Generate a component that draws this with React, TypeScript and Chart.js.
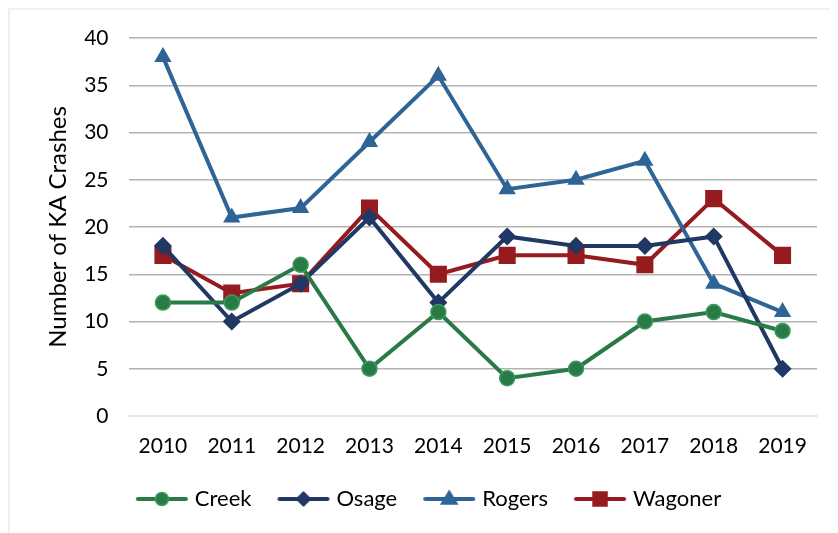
import React, { useEffect, useRef } from "react";
import { Chart, registerables } from "chart.js";

Chart.register(...registerables);

const years = ["2010", "2011", "2012", "2013", "2014", "2015", "2016", "2017", "2018", "2019"];
const creek = [12, 12, 16, 5, 11, 4, 5, 10, 11, 9];
const osage = [18, 10, 14, 21, 12, 19, 18, 18, 19, 5];
const rogers = [38, 21, 22, 29, 36, 24, 25, 27, 14, 11];
const wagoner = [17, 13, 14, 22, 15, 17, 17, 16, 23, 17];
const yTicks = [0, 5, 10, 15, 20, 25, 30, 35, 40];

const FONT = "Lato, 'Open Sans', sans-serif";

type SeriesStyle = {
  label: string;
  data: number[];
  color: string;
  border: string;
  pointStyle: string;
  radius: number;
};

const series: SeriesStyle[] = [
  { label: "Creek", data: creek, color: "#2a7a48", border: "#3a9c5c", pointStyle: "circle", radius: 7.5 },
  { label: "Osage", data: osage, color: "#1f3864", border: "#1f3864", pointStyle: "rectRot", radius: 8 },
  { label: "Rogers", data: rogers, color: "#2f6496", border: "#2f6496", pointStyle: "triangle", radius: 8.5 },
  { label: "Wagoner", data: wagoner, color: "#961b1f", border: "#961b1f", pointStyle: "rect", radius: 11 },
];

const CW = 820;
const CH = 529;

function legendImage(s: SeriesStyle): HTMLCanvasElement {
  const c = document.createElement("canvas");
  c.width = 54;
  c.height = 22;
  const ctx = c.getContext("2d")!;
  ctx.strokeStyle = s.color;
  ctx.lineWidth = 4;
  ctx.lineCap = "round";
  ctx.beginPath();
  ctx.moveTo(3, 11);
  ctx.lineTo(51, 11);
  ctx.stroke();
  ctx.fillStyle = s.color;
  ctx.strokeStyle = s.border;
  ctx.lineWidth = 1.5;
  const cx = 27, cy = 11;
  ctx.beginPath();
  if (s.pointStyle === "circle") {
    ctx.arc(cx, cy, 6.5, 0, Math.PI * 2);
  } else if (s.pointStyle === "rectRot") {
    ctx.moveTo(cx, cy - 7);
    ctx.lineTo(cx + 7, cy);
    ctx.lineTo(cx, cy + 7);
    ctx.lineTo(cx - 7, cy);
    ctx.closePath();
  } else if (s.pointStyle === "triangle") {
    ctx.moveTo(cx, cy - 8);
    ctx.lineTo(cx + 8, cy + 5);
    ctx.lineTo(cx - 8, cy + 5);
    ctx.closePath();
  } else {
    ctx.rect(cx - 7, cy - 7, 14, 14);
  }
  ctx.fill();
  ctx.stroke();
  return c;
}

export default function App() {
  const ref = useRef<HTMLCanvasElement | null>(null);

  useEffect(() => {
    document.body.style.overflow = "hidden";
    if (!ref.current) return;
    const images = series.map(legendImage);
    const chart = new Chart(ref.current, {
      type: "line",
      data: {
        labels: years,
        datasets: series.map((s) => ({
          label: s.label,
          data: s.data,
          borderColor: s.color,
          backgroundColor: s.color,
          borderWidth: 4,
          pointStyle: s.pointStyle as any,
          pointRadius: s.radius,
          pointBackgroundColor: s.color,
          pointBorderColor: s.border,
          pointBorderWidth: 1.5,
          tension: 0,
          fill: false,
        })),
      },
      options: {
        responsive: false,
        animation: false,
        layout: { padding: { left: 34, right: 13, top: 28, bottom: 19 } },
        plugins: {
          tooltip: { enabled: false },
          legend: {
            position: "bottom",
            labels: {
              usePointStyle: true,
              pointStyleWidth: 44,
              padding: 30,
              color: "#000",
              font: { family: FONT, size: 22 },
              generateLabels: () =>
                series.map((s, i) => ({
                  text: s.label,
                  pointStyle: images[i] as any,
                  fillStyle: s.color,
                  strokeStyle: s.color,
                  lineWidth: 0,
                  hidden: false,
                  datasetIndex: i,
                  fontColor: "#000",
                })),
            },
          },
        },
        scales: {
          x: {
            offset: true,
            afterFit: (scale: any) => {
              scale.height = 42;
              scale.paddingLeft = 0;
              scale.paddingRight = 0;
            },
            grid: { display: false, drawTicks: false },
            border: { display: true, color: "#dcefef", width: 2 },
            ticks: { color: "#000", padding: 18, font: { family: FONT, size: 21 } },
          },
          y: {
            min: 0,
            max: 40,
            afterFit: (scale: any) => {
              scale.width = 84.5;
              scale.paddingTop = 0;
              scale.paddingBottom = 0;
            },
            afterBuildTicks: (scale: any) => {
              scale.ticks = yTicks.map((v) => ({ value: v }));
            },
            grid: {
              drawTicks: false,
              color: (ctx: any) => (ctx.tick && ctx.tick.value === 0 ? "rgba(0,0,0,0)" : "#b3b3b3"),
              lineWidth: 1.5,
            },
            border: { display: false },
            ticks: { color: "#000", padding: 20, font: { family: FONT, size: 21 } },
            title: {
              display: true,
              text: "Number of KA Crashes",
              color: "#000",
              font: { family: FONT, size: 24 },
              padding: { top: 0, bottom: 4 },
            },
          },
        },
      },
    });
    return () => chart.destroy();
  }, []);

  return (
    <div
      style={{
        width: CW + 2,
        height: CH + 2,
        borderLeft: "2px solid #e6f4f4",
        borderTop: "2px solid #e6f4f4",
        boxSizing: "border-box",
      }}
    >
      <canvas ref={ref} width={CW} height={CH} style={{ display: "block" }} />
    </div>
  );
}
